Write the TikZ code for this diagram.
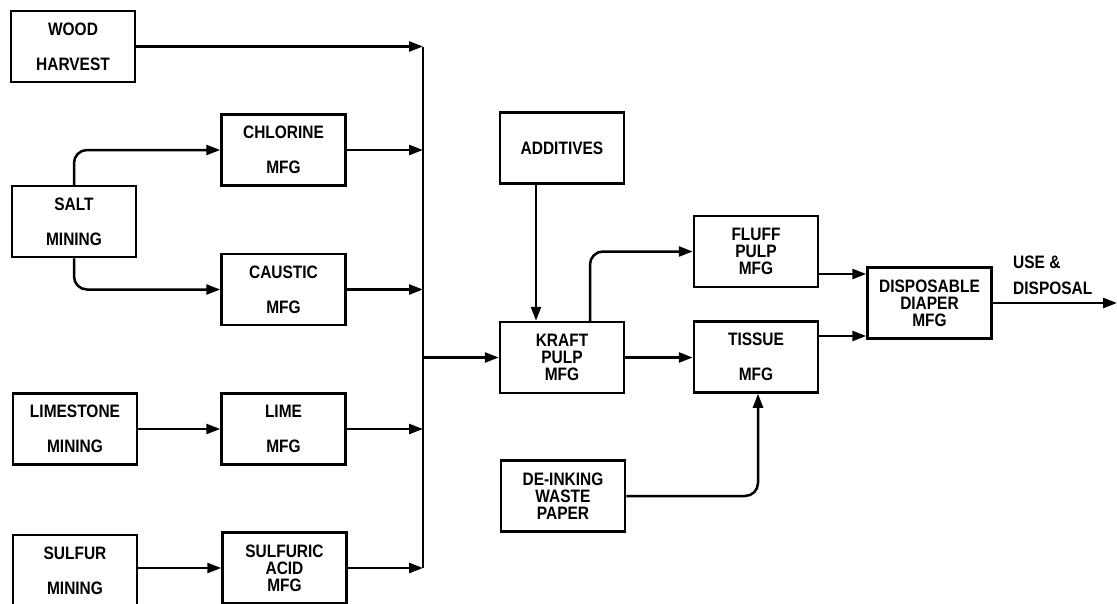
\documentclass[tikz,border=0pt]{standalone}
\usepackage{fontspec}
\setmainfont{Liberation Sans}
\newfontfamily\bxfamily[FakeStretch=0.86]{Liberation Sans}
\usetikzlibrary{arrows.meta,calc}
\newcommand{\bxfont}{\bxfamily\bfseries\fontsize{18}{17}\selectfont}
\tikzset{
  bx/.style={draw, line width=2.5pt, minimum width=124pt, minimum height=71pt,
    inner sep=0pt, align=center, font=\bxfont},
  arr/.style={line width=2.5pt, -{Triangle[length=14pt,width=10pt]}},
  ln/.style={line width=2.5pt},
}
\begin{document}
\begin{tikzpicture}[x=1pt,y=-1pt]
\useasboundingbox (0,0) rectangle (1117,603);
\fill[white] (0,0) rectangle (1117,603);
\clip (0,0) rectangle (1117,603);
% left column
\node[bx] (wood) at (73,46.5) {WOOD\\[18pt]HARVEST};
\node[bx] (salt) at (74,221.5) {SALT\\[18pt]MINING};
\node[bx] (limestone) at (75,429) {LIMESTONE\\[18pt]MINING};
\node[bx] (sulfur) at (75,570.5) {SULFUR\\[18pt]MINING};
% second column
\node[bx] (chlorine) at (283.5,150) {CHLORINE\\[18pt]MFG};
\node[bx] (caustic) at (283.5,289.5) {CAUSTIC\\[18pt]MFG};
\node[bx] (lime) at (283.5,429) {LIME\\[18pt]MFG};
\node[bx] (sulfuric) at (284.5,568) {SULFURIC\\ACID\\MFG};
% middle
\node[bx] (additives) at (562,148) {ADDITIVES};
\node[bx] (kraft) at (562,357.5) {KRAFT\\PULP\\MFG};
\node[bx] (deink) at (563,496) {DE-INKING\\WASTE\\PAPER};
\node[bx] (fluff) at (756,251.5) {FLUFF\\PULP\\MFG};
\node[bx] (tissue) at (756,357) {TISSUE\\[18pt]MFG};
\node[bx] (diaper) at (929.5,303) {DISPOSABLE\\DIAPER\\MFG};
\node[anchor=west, align=left, font=\bxfont, inner sep=0pt] (use) at (1013,275)
  {USE \&\\[9pt]DISPOSAL};
% bus
\coordinate (btop) at (423,46.5);
\coordinate (bbot) at (423,568);
\coordinate (uend) at (1117,303);
\draw[ln] (btop) -- (bbot);
\draw[arr] (wood.east) -- (btop);
\draw[arr] (chlorine.east) -- (chlorine.east -| btop);
\draw[arr] (caustic.east) -- (caustic.east -| btop);
\draw[arr] (lime.east) -- (lime.east -| btop);
\draw[arr] (sulfuric.east) -- (sulfuric.east -| btop);
\draw[arr] (kraft.west -| btop) -- (kraft.west);
% left links
\draw[arr, rounded corners=13pt] (salt.north) |- (chlorine.west);
\draw[arr, rounded corners=13pt] (salt.south) |- (caustic.west);
\draw[arr] (limestone.east) -- (lime.west);
\draw[arr] (sulfur.east |- sulfuric.west) -- (sulfuric.west);
% middle links
\draw[arr] ([xshift=-26pt]additives.south) -- ([xshift=-26pt]kraft.north);
\draw[arr, rounded corners=13pt] ([xshift=28pt]kraft.north) |- (fluff.west);
\draw[arr] (kraft.east) -- (kraft.east -| tissue.west);
\draw[arr, rounded corners=13pt] (deink.east) -| ([xshift=2pt]tissue.south);
\coordinate (f1) at ([yshift=-22.5pt]fluff.east);
\coordinate (t1) at ([yshift=21pt]tissue.east);
\draw[arr] (f1) -- (f1 -| diaper.west);
\draw[arr] (t1) -- (t1 -| diaper.west);
\draw[arr] (diaper.east) -- (uend);
\end{tikzpicture}
\end{document}
